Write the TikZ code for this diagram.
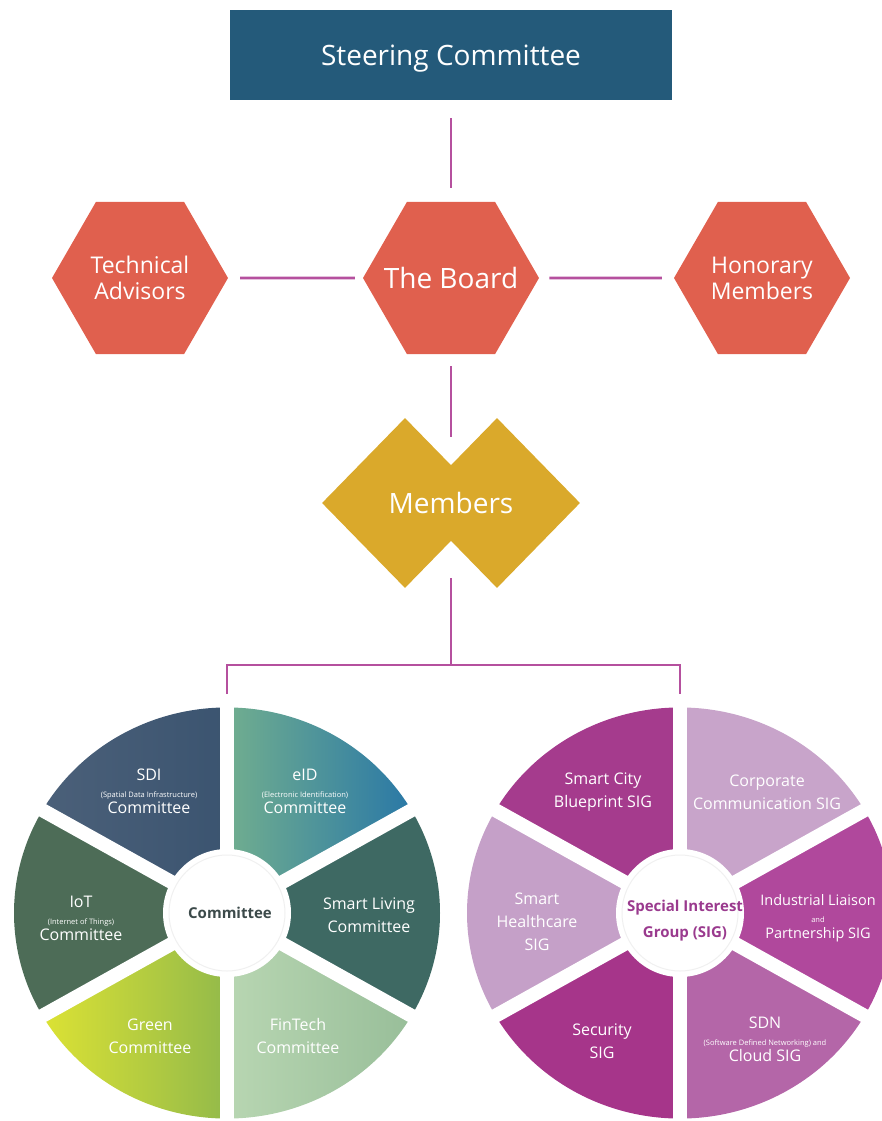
\documentclass[tikz,border=0pt]{standalone}
\usepackage{fontspec}
\setmainfont{Open Sans}
\usetikzlibrary{shapes.geometric}

\definecolor{steerblue}{HTML}{245A7A}
\definecolor{boardred}{HTML}{E0604E}
\definecolor{membergold}{HTML}{DAA92B}
\definecolor{linkpink}{HTML}{B5509E}
% committee wheel
\definecolor{sdiA}{HTML}{4B6079}
\definecolor{sdiB}{HTML}{3B5470}
\definecolor{eidA}{HTML}{71AE8F}
\definecolor{eidB}{HTML}{2A78A6}
\definecolor{livingC}{HTML}{3E6963}
\definecolor{fintechA}{HTML}{B8D6B2}
\definecolor{fintechB}{HTML}{98BE99}
\definecolor{greenA}{HTML}{DCE234}
\definecolor{greenB}{HTML}{93BA4A}
\definecolor{iotC}{HTML}{4D6C57}
\definecolor{hubgray}{HTML}{3C4A4A}
% SIG wheel
\definecolor{cityC}{HTML}{A53B8D}
\definecolor{corpC}{HTML}{C8A4CA}
\definecolor{liaisonC}{HTML}{B0489C}
\definecolor{sdnC}{HTML}{B466A8}
\definecolor{securityC}{HTML}{A6358A}
\definecolor{healthC}{HTML}{C5A0C8}
\definecolor{sigpurple}{HTML}{9A3A8E}

\newcommand{\smallnote}{\fontsize{7.5}{9}\selectfont}

\begin{document}
\begin{tikzpicture}[x=1pt,y=-1pt,
  hex/.style={regular polygon,regular polygon sides=6,minimum size=176pt,inner sep=0pt,
    fill=boardred,text=white,align=center,font=\fontsize{23}{26}\selectfont},
  gem/.style={diamond,minimum width=166pt,minimum height=170pt,inner sep=0pt,fill=membergold},
  wire/.style={draw=linkpink,line width=2.8pt},
  wedgetext/.style={text=white,align=center,font=\fontsize{16}{23}\selectfont}]
\useasboundingbox (0,0) rectangle (882,1121);

% top of the tree
\node[fill=steerblue,minimum width=442pt,minimum height=90pt,text depth=0pt,text=white,font=\fontsize{28}{32}\selectfont] (steering) at (451,55) {Steering Committee};
\node[hex] (tech) at (140,278) {Technical\\Advisors};
\node[hex,inner sep=-22pt,font=\fontsize{28}{32}\selectfont] (board) at (451,278) {The Board};
\node[hex] (honorary) at (762,278) {Honorary\\Members};

% members: two overlapping diamonds
\node[gem] (gemL) at (405,503) {};
\node[gem] (gemR) at (497,503) {};
\node[text=white,font=\fontsize{28}{32}\selectfont] (members) at (451,503) {Members};

\coordinate (notch) at (451,437);
\coordinate (memberfoot) at (451,578);
\coordinate (fork) at (451,665);
\coordinate (forkL) at (227,665);
\coordinate (forkR) at (680,665);
\coordinate (committeetop) at (227,694);
\coordinate (sigtop) at (680,694);

\draw[wire,shorten <=18pt,shorten >=14pt] (steering) -- (board);
\draw[wire,shorten <=12pt,shorten >=8pt] (tech) -- (board);
\draw[wire,shorten <=10pt,shorten >=12pt] (board) -- (honorary);
\draw[wire,shorten <=12pt] (board) -- (notch);
\draw[wire] (memberfoot) -- (fork);
\draw[wire] (committeetop) -- (forkL) -- (forkR) -- (sigtop);

% committee wheel
\begin{scope}[shift={(227,913)},x=1pt,y=0.965pt]
\shade[left color=sdiA,right color=sdiB] (0,0) -- (90:213) arc (90:150:213) -- cycle;
\shade[left color=eidA,right color=eidB] (0,0) -- (30:213) arc (30:90:213) -- cycle;
\fill[livingC] (0,0) -- (-30:213) arc (-30:30:213) -- cycle;
\shade[left color=fintechA,right color=fintechB] (0,0) -- (-90:213) arc (-90:-30:213) -- cycle;
\shade[left color=greenA,right color=greenB] (0,0) -- (210:213) arc (210:270:213) -- cycle;
\fill[iotC] (0,0) -- (150:213) arc (150:210:213) -- cycle;
\draw[white,line width=14pt] (90:225) -- (270:225);
\draw[white,line width=14pt] (30:225) -- (210:225);
\draw[white,line width=14pt] (150:225) -- (330:225);
\fill[white] (0,0) circle[radius=64pt];
\draw[gray!12,line width=1pt] (0,0) circle[radius=58pt];
\end{scope}

\node[text=hubgray,font=\fontsize{15}{18}\selectfont\bfseries] (committee) at (230,913) {Committee};
\node[wedgetext] (sdi) at (149,791) {SDI\\[-6pt]{\smallnote (Spatial Data Infrastructure)}\\[-7pt]Committee};
\node[wedgetext] (eid) at (305,791) {eID\\[-6pt]{\smallnote (Electronic Identification)}\\[-7pt]Committee};
\node[wedgetext] (iot) at (81,918) {IoT\\[-6pt]{\smallnote (Internet of Things)}\\[-7pt]Committee};
\node[wedgetext] (living) at (369,915) {Smart Living\\Committee};
\node[wedgetext] (green) at (150,1036) {Green\\Committee};
\node[wedgetext] (fintech) at (298,1036) {FinTech\\Committee};

% special interest group wheel
\begin{scope}[shift={(680,913)},x=1pt,y=0.965pt]
\fill[cityC] (0,0) -- (90:213) arc (90:150:213) -- cycle;
\fill[corpC] (0,0) -- (30:213) arc (30:90:213) -- cycle;
\fill[liaisonC] (0,0) -- (-30:213) arc (-30:30:213) -- cycle;
\fill[sdnC] (0,0) -- (-90:213) arc (-90:-30:213) -- cycle;
\fill[securityC] (0,0) -- (210:213) arc (210:270:213) -- cycle;
\fill[healthC] (0,0) -- (150:213) arc (150:210:213) -- cycle;
\draw[white,line width=14pt] (90:225) -- (270:225);
\draw[white,line width=14pt] (30:225) -- (210:225);
\draw[white,line width=14pt] (150:225) -- (330:225);
\fill[white] (0,0) circle[radius=64pt];
\draw[gray!12,line width=1pt] (0,0) circle[radius=58pt];
\end{scope}

\node[text=sigpurple,align=center,font=\fontsize{15}{26}\selectfont\bfseries] (sig) at (685,921) {Special Interest\\Group (SIG)};
\node[wedgetext] (city) at (603,792) {Smart City\\Blueprint SIG};
\node[wedgetext] (corporate) at (767,792) {Corporate\\Communication SIG};
\node[wedgetext,font=\fontsize{14.5}{23}\selectfont] (liaison) at (818,918) {Industrial Liaison\\[-6pt]{\smallnote and}\\[-7pt]Partnership SIG};
\node[wedgetext] (sdn) at (765,1039) {SDN\\[-6pt]{\smallnote (Software Defined Networking) and}\\[-7pt]Cloud SIG};
\node[wedgetext] (security) at (602,1041) {Security\\SIG};
\node[wedgetext] (health) at (537,922) {Smart\\Healthcare\\SIG};
\end{tikzpicture}
\end{document}
